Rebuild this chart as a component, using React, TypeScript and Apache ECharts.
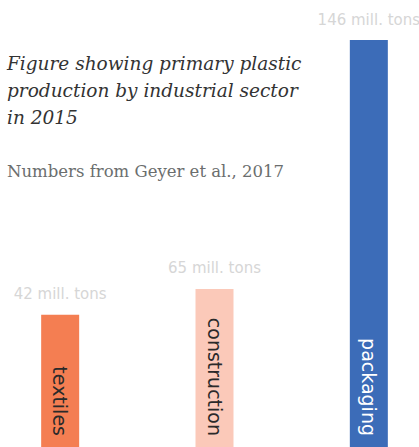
import React, { useEffect, useRef } from "react";
import * as echarts from "echarts";

const categories = ["textiles", "construction", "packaging"];
const labelValues = [42, 65, 146]; // mill. tons shown in labels
const barLengths = [47.4, 56.7, 146]; // bar lengths
const barColors = ["#f47e52", "#fbc9b9", "#3c6cb8"];
const insideLabelColors = ["#2a2a2a", "#2a2a2a", "#ffffff"];

const SHIFT = 17;

export default function App() {
  const ref = useRef<HTMLDivElement>(null);
  useEffect(() => {
    document.body.style.margin = "0";
    const chart = echarts.init(ref.current!, null, { renderer: "svg" });
    chart.setOption({
      animation: false,
      title: [
        {
          text: "Figure showing primary plastic\nproduction by industrial sector\nin 2015",
          left: 2 + SHIFT,
          top: 45,
          textStyle: {
            fontFamily: "DejaVu Serif",
            fontStyle: "italic",
            fontWeight: "normal",
            fontSize: 18.5,
            lineHeight: 27,
            color: "#333333",
          },
        },
        {
          text: "Numbers from Geyer et al., 2017",
          left: 2 + SHIFT,
          top: 154,
          textStyle: {
            fontFamily: "DejaVu Serif",
            fontWeight: "normal",
            fontSize: 16.5,
            lineHeight: 24,
            color: "#6b6e6e",
          },
        },
      ],
      grid: { left: 0, right: 0, top: 40, bottom: 0 },
      xAxis: {
        type: "category",
        data: categories,
        show: false,
      },
      yAxis: { type: "value", min: 0, max: 146, show: false },
      series: [
        {
          type: "bar",
          barWidth: 38,
          barGap: "-100%",
          data: barLengths.map((v, i) => ({
            value: v,
            itemStyle: { color: barColors[i] },
          })),
          label: {
            show: true,
            position: "top",
            distance: 13,
            formatter: (p: any) => `${labelValues[p.dataIndex]} mill. tons`,
            fontFamily: "DejaVu Sans",
            fontSize: 15,
            color: "#d6d6d6",
          },
        },
        {
          type: "bar",
          barWidth: 38,
          barGap: "-100%",
          silent: true,
          data: barLengths.map((v, i) => ({
            value: v,
            itemStyle: { color: "transparent" },
            label: { color: insideLabelColors[i] },
          })),
          label: {
            show: true,
            position: "insideBottom",
            rotate: -90,
            align: "right",
            verticalAlign: "middle",
            distance: 11,
            formatter: (p: any) => categories[p.dataIndex],
            fontFamily: "DejaVu Sans",
            fontSize: 19,
          },
        },
      ],
    });
    return () => chart.dispose();
  }, []);
  return (
    <div style={{ width: 419, height: 447, overflow: "hidden", position: "relative" }}>
      <div
        ref={ref}
        style={{ width: 419 + 2 * SHIFT + 10, height: 447, marginLeft: -SHIFT }}
      />
    </div>
  );
}
